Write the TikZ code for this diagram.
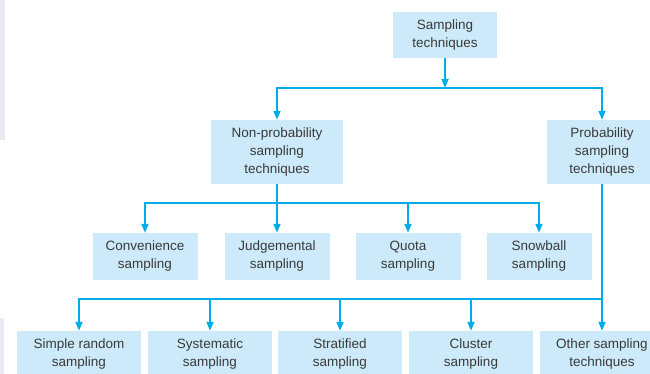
\documentclass[tikz,border=0pt]{standalone}
\usepackage{fontspec}
\setmainfont{Liberation Sans}
\usetikzlibrary{arrows.meta}
\definecolor{boxblue}{RGB}{204,234,249}
\definecolor{linkblue}{RGB}{0,172,234}
\definecolor{textgrey}{RGB}{58,58,58}
\definecolor{edgegrey}{RGB}{232,234,242}

\begin{document}
\begin{tikzpicture}[x=1pt, y=-1pt,
  every node/.style={font=\fontsize{13.5}{18}\selectfont, text=textgrey, align=center},
  box/.style={fill=boxblue, inner sep=0pt, minimum height=47pt},
  link/.style={draw=linkblue, line width=1.8pt},
  bus/.style={link, line cap=rect},
  arr/.style={link, -{Triangle[width=7pt,length=9pt]}}]
  \useasboundingbox (0,0) rectangle (650,374);
  \clip (0,0) rectangle (650,374);

  % left margin strip
  \fill[edgegrey] (0,0) rectangle (5,140);
  \fill[edgegrey] (0,318) rectangle (4,374);

  % Top level
  \node[box, minimum width=104pt, minimum height=46pt] (top) at (445,35) {Sampling\\techniques};
  \node[box, minimum width=132pt, minimum height=64pt] (nonprob) at (277,152) {Non-probability\\sampling\\techniques};
  \node[box, minimum width=110pt, minimum height=64pt] (prob) at (602,152) {Probability\\sampling\\techniques};

  % Non-probability methods
  \node[box, minimum width=105pt] (conv) at (145,256.5) {Convenience\\sampling};
  \node[box, minimum width=105pt] (judge) at (277,256.5) {Judgemental\\sampling};
  \node[box, minimum width=105pt] (quota) at (408,256.5) {Quota\\sampling};
  \node[box, minimum width=105pt] (snow) at (539,256.5) {Snowball\\sampling};

  % Probability methods
  \node[box, minimum width=124pt] (simple) at (79,354.5) {Simple random\\sampling};
  \node[box, minimum width=124pt] (syst) at (210,354.5) {Systematic\\sampling};
  \node[box, minimum width=124pt] (strat) at (340,354.5) {Stratified\\sampling};
  \node[box, minimum width=124pt] (clust) at (471,354.5) {Cluster\\sampling};
  \node[box, minimum width=124pt] (other) at (602,354.5) {Other sampling\\techniques};

  % Connectors
  \coordinate (j1) at (445,88);
  \coordinate (j2) at (277,203);
  \coordinate (j3) at (602,299);

  \draw[arr] (top.south) -- (j1);
  \draw[bus] (nonprob.north |- j1) -- (prob.north |- j1);
  \draw[arr] (nonprob.north |- j1) -- (nonprob.north);
  \draw[arr] (prob.north |- j1) -- (prob.north);

  \draw[link] (nonprob.south) -- (j2);
  \draw[bus] (conv.north |- j2) -- (snow.north |- j2);
  \foreach \n in {conv,judge,quota,snow}
    \draw[arr] (\n.north |- j2) -- (\n.north);

  \draw[link] (prob.south) -- (j3);
  \draw[bus] (simple.north |- j3) -- (j3);
  \foreach \n in {simple,syst,strat,clust,other}
    \draw[arr] (\n.north |- j3) -- (\n.north);
\end{tikzpicture}
\end{document}
